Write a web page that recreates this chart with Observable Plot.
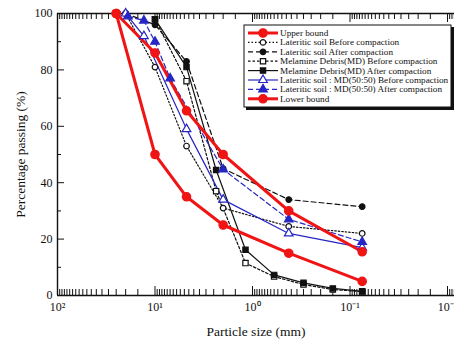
<!DOCTYPE html>
<html><head><meta charset="utf-8">
<script src="https://cdn.jsdelivr.net/npm/d3@7"></script>
<script src="https://cdn.jsdelivr.net/npm/@observablehq/plot@0.6"></script>
<style>
body{margin:0;background:#fff;}
#wrap{position:relative;width:454px;height:345px;overflow:hidden;background:#fff;}
#legend{position:absolute;left:243px;top:24px;}
</style></head><body><div id="wrap"></div>
<script>
// ---- data (sieve size mm, percentage passing %) ----
const seriesNames = [
  "Upper bound",
  "Lateritic soil Before compaction",
  "Lateritic soil After compaction",
  "Melamine Debris(MD) Before compaction",
  "Melamine Debris(MD) After compaction",
  "Lateritic soil : MD(50:50) Before compaction",
  "Lateritic soil : MD(50:50) After compaction",
  "Lower bound"
];
const boundSieves = [25, 10, 4.75, 2, 0.425, 0.075];
const upperBound = [100, 86, 65.5, 50, 30, 15.5];
const lowerBound = [100, 50, 35, 25, 15, 5];
const lateriticSieves = [20, 10, 4.75, 2, 0.425, 0.075];
const lateriticBefore = [100, 81, 53, 31, 24.5, 22];
const lateriticAfter = [100, 96, 83, 45, 34, 31.5];
const melamineSieves = [10, 4.75, 2.36, 1.18, 0.6, 0.3, 0.15, 0.075];
const melamineBefore = [98, 76, 37, 11.5, 6.7, 3.9, 2.1, 1.4];
const melamineAfter = [98, 81, 44.5, 16.2, 7.3, 4.5, 2.5, 1.5];
const blendBeforeSieves = [20, 13, 4.75, 2, 0.425, 0.075];
const blendBefore = [100, 92, 59, 34, 22, 17];
const blendAfterSieves = [19, 13, 10, 7, 2, 0.425, 0.075];
const blendAfter = [99, 97.5, 90, 77, 44.7, 27, 19];

const yTicks = [0, 20, 40, 60, 80, 100];
const yMinorTicks = [10, 30, 50, 70, 90];
const xDecades = [100, 10, 1, 0.1, 0.01];
const xTickLabels = ["10²", "10¹", "10⁰", "10⁻¹", "10⁻²"];

// ---- styles ----
const RED = "#f01414", BLUE = "#2626c4", BLK = "#111";
const styles = [
  {stroke: RED, width: 3, dash: null, symbol: "circle", fill: RED, r: 4.2},
  {stroke: BLK, width: 1.2, dash: "1.5,2", symbol: "circle", fill: "white", r: 2.8},
  {stroke: BLK, width: 1.2, dash: "5,3", symbol: "circle", fill: BLK, r: 2.8},
  {stroke: BLK, width: 1.2, dash: "2.5,2", symbol: "square", fill: "white", r: 3},
  {stroke: BLK, width: 1.2, dash: null, symbol: "square", fill: BLK, r: 3},
  {stroke: BLUE, width: 1.2, dash: null, symbol: "triangle", fill: "white", r: 3.2},
  {stroke: BLUE, width: 1.2, dash: "5,3", symbol: "triangle", fill: BLUE, r: 3.2},
  {stroke: RED, width: 3, dash: null, symbol: "circle", fill: RED, r: 4.2}
];
const seriesData = [
  [boundSieves, upperBound],
  [lateriticSieves, lateriticBefore],
  [lateriticSieves, lateriticAfter],
  [melamineSieves, melamineBefore],
  [melamineSieves, melamineAfter],
  [blendBeforeSieves, blendBefore],
  [blendAfterSieves, blendAfter],
  [boundSieves, lowerBound]
];
const rowsOf = (i) => seriesData[i][0].map((s, j) => ({size: s, pass: seriesData[i][1][j], series: seriesNames[i]}));

// ---- layout ----
const W = 454, H = 345, mL = 57, mT = 13, mB = 50, mR = 0;
const plotW = W - mL - mR, plotH = H - mT - mB;
const decadePx = 97.5;
const xMin = Math.pow(10, 2 - plotW / decadePx);

// minor log ticks
const minorX = [];
for (let e = -3; e <= 1; e++) for (let k = 1; k < 10; k += 0.5) {
  const v = k * Math.pow(10, e);
  if (v <= 100 && v >= xMin && k !== 1) minorX.push(v);
}

const marks = [];
marks.push(Plot.ruleY([0, 100], {stroke: BLK, strokeWidth: 1.4}));
marks.push(Plot.ruleX([100], {stroke: BLK, strokeWidth: 1.4}));
marks.push(Plot.ruleX(minorX, {stroke: BLK, strokeWidth: 1, insetTop: plotH - 6}));
marks.push(Plot.ruleX(minorX, {stroke: BLK, strokeWidth: 1, insetBottom: plotH - 6}));
marks.push(Plot.ruleX(xDecades, {stroke: BLK, strokeWidth: 1, insetTop: plotH - 9}));
marks.push(Plot.ruleX(xDecades, {stroke: BLK, strokeWidth: 1, insetBottom: plotH - 9}));
marks.push(Plot.ruleY(yTicks, {stroke: BLK, strokeWidth: 1, insetRight: plotW - 7}));
marks.push(Plot.ruleY(yMinorTicks, {stroke: BLK, strokeWidth: 1, insetRight: plotW - 4}));

const order = [1, 2, 3, 4, 5, 6, 0, 7];
for (const i of order) {
  const st = styles[i];
  marks.push(Plot.line(rowsOf(i), {x: "size", y: "pass", stroke: st.stroke, strokeWidth: st.width, strokeDasharray: st.dash, curve: "linear"}));
}
for (const i of order) {
  const st = styles[i];
  marks.push(Plot.dot(rowsOf(i), {x: "size", y: "pass", symbol: () => st.symbol, r: st.r, fill: st.fill, stroke: st.stroke, strokeWidth: 1.2}));
}

marks.push(Plot.axisX(xDecades, {anchor: "bottom", tickSize: 0, tickPadding: 7, fontSize: 12,
  tickFormat: (d) => xTickLabels[xDecades.indexOf(d)],
  label: "Particle size (mm)", labelAnchor: "center", labelOffset: 40, labelArrow: "none"}));
marks.push(Plot.axisY(yTicks, {anchor: "left", tickSize: 0, tickPadding: 5, fontSize: 12,
  tickFormat: (d) => String(d),
  label: "Percentage passing (%)", labelAnchor: "center", labelOffset: 42, labelArrow: "none"}));

const chart = Plot.plot({
  width: W, height: H,
  marginLeft: mL, marginRight: mR, marginTop: mT, marginBottom: mB,
  style: {fontFamily: "'Liberation Serif', serif", fontSize: "12px", color: "#111", background: "white"},
  x: {type: "log", domain: [100, xMin]},
  y: {domain: [0, 100]},
  symbol: {type: "identity"},
  marks
});
chart.querySelectorAll("[aria-label='x-axis label'] text, [aria-label='y-axis label'] text").forEach(t => t.setAttribute("font-size", "13.5"));
document.getElementById("wrap").appendChild(chart);

// ---- legend ----
const lw = 210, lh = 85;
const leg = d3.select("#wrap").append("svg").attr("id", "legend").attr("width", lw + 3).attr("height", lh + 3)
  .style("font-family", "'Liberation Serif', serif");
leg.append("rect").attr("x", 3).attr("y", 3).attr("width", lw - 2).attr("height", lh - 2).attr("fill", BLK);
leg.append("rect").attr("x", 1).attr("y", 1).attr("width", lw - 3).attr("height", lh - 3).attr("fill", "white").attr("stroke", BLK).attr("stroke-width", 1);
const symPath = {circle: d3.symbolCircle, square: d3.symbolSquare, triangle: d3.symbolTriangle};
seriesNames.forEach((name, i) => {
  const st = styles[i];
  const y = 9 + i * 9.4;
  const g = leg.append("g");
  g.append("line").attr("x1", 5).attr("x2", 35).attr("y1", y).attr("y2", y)
    .attr("stroke", st.stroke).attr("stroke-width", st.width).attr("stroke-dasharray", st.dash);
  const area = Math.PI * st.r * st.r;
  g.append("path").attr("d", d3.symbol(symPath[st.symbol], area)()).attr("transform", `translate(20,${y})`)
    .attr("fill", st.fill).attr("stroke", st.stroke).attr("stroke-width", 1.2);
  g.append("text").attr("x", 37).attr("y", y + 3).attr("font-size", 9.2).attr("fill", BLK).text(name);
});
</script></body></html>
